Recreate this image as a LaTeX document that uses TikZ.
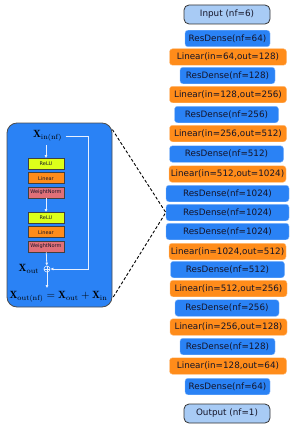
\documentclass[tikz,border=0pt]{standalone}
\usepackage{fontspec}
\newfontfamily\dejavu{DejaVu Sans}
\usetikzlibrary{arrows.meta, positioning}
\definecolor{rdblue}{HTML}{2A82F5}
\definecolor{lnorange}{HTML}{FF8C1A}
\definecolor{iolight}{HTML}{A8CBF5}
\definecolor{relugreen}{HTML}{DDFF1A}
\definecolor{wnpink}{HTML}{E07078}
\definecolor{arrwhite}{HTML}{E8F0FF}
\definecolor{txtdark}{HTML}{141428}

\begin{document}
\begin{tikzpicture}[x=1pt, y=-1pt,
  rd/.style={draw=rdblue!55!white, fill=rdblue, rounded corners=3pt, minimum height=16.5pt, inner sep=0pt, font=\dejavu\fontsize{8.8}{10}\selectfont, text=txtdark},
  ln/.style={rd, draw=lnorange!55!white, fill=lnorange, minimum width=117pt},
  io/.style={rd, draw=black!80, fill=iolight, minimum width=86pt, minimum height=19pt, rounded corners=5pt, line width=0.8pt},
  lyr/.style={draw=black!75, line width=0.7pt, minimum width=36pt, minimum height=11pt, inner sep=0pt, font=\dejavu\fontsize{5}{6}\selectfont, text=txtdark},
  arr/.style={-{Latex[length=3pt,width=3pt]}, arrwhite, line width=0.8pt},
  zoom/.style={dash pattern=on 3pt off 2pt, line width=0.9pt}
]
  \useasboundingbox (0,0) rectangle (299,428);

  % network stack
  \node[io] (inp) at (227,14.5) {Input (nf=6)};
  \node[rd, minimum width=85pt] (b1) at (227.5,38.5) {ResDense(nf=64)};
  \node[ln] (b2) at (228,57) {Linear(in=64,out=128)};
  \node[rd, minimum width=95pt] (b3) at (227.5,75.5) {ResDense(nf=128)};
  \node[ln] (b4) at (228,94.5) {Linear(in=128,out=256)};
  \node[rd, minimum width=104pt] (b5) at (226.5,114.5) {ResDense(nf=256)};
  \node[ln] (b6) at (228,133.5) {Linear(in=256,out=512)};
  \node[rd, minimum width=114pt] (b7) at (226.5,154) {ResDense(nf=512)};
  \node[ln] (b8) at (227.5,174) {Linear(in=512,out=1024)};
  \node[rd, minimum width=123pt] (b9) at (227.5,193.5) {ResDense(nf=1024)};
  \node[rd, minimum width=123pt] (b10) at (227.5,212.5) {ResDense(nf=1024)};
  \node[rd, minimum width=123pt] (b11) at (227.5,231.5) {ResDense(nf=1024)};
  \node[ln] (b12) at (227.5,251.5) {Linear(in=1024,out=512)};
  \node[rd, minimum width=114pt] (b13) at (227.5,269.5) {ResDense(nf=512)};
  \node[ln] (b14) at (228.5,288.5) {Linear(in=512,out=256)};
  \node[rd, minimum width=104pt] (b15) at (227,308) {ResDense(nf=256)};
  \node[ln] (b16) at (228.5,327) {Linear(in=256,out=128)};
  \node[rd, minimum width=95pt] (b17) at (227.5,346.5) {ResDense(nf=128)};
  \node[ln] (b18) at (228,366) {Linear(in=128,out=64)};
  \node[rd, minimum width=85pt] (b19) at (227.5,386.5) {ResDense(nf=64)};
  \node[io] (outp) at (227,413.5) {Output (nf=1)};

  % ResDense block in detail
  \node[draw=black!70, line width=0.8pt, fill=rdblue, rounded corners=10pt, minimum width=105pt, minimum height=184pt] (lbox) at (59.5,215) {};
  \node[font=\fontsize{10.5}{12}\selectfont] (xin) at (47.5,136) {$\mathbf{X}_{\mathrm{in(nf)}}$};
  \node[lyr, fill=relugreen] (relu1) at (46,164) {ReLU};
  \node[lyr, fill=lnorange, below=2.5pt of relu1] (lin1) {Linear};
  \node[lyr, fill=wnpink, below=2.5pt of lin1] (wn1) {WeightNorm};
  \node[lyr, fill=relugreen] (relu2) at (46,218) {ReLU};
  \node[lyr, fill=lnorange, below=2.5pt of relu2] (lin2) {Linear};
  \node[lyr, fill=wnpink, below=2.5pt of lin2] (wn2) {WeightNorm};
  \node[circle, draw=arrwhite, line width=0.6pt, minimum size=6pt, inner sep=0pt] (add) at (47,269) {};
  \draw[arrwhite, line width=0.6pt] (add.north) -- (add.south) (add.west) -- (add.east);
  \node[font=\fontsize{10.5}{12}\selectfont, left=1pt of add] (xout) {$\mathbf{X}_{\mathrm{out}}$};
  \node[font=\fontsize{10.5}{12}\selectfont] (res) at (58.5,297) {$\mathbf{X}_{\mathrm{out(nf)}} = \mathbf{X}_{\mathrm{out}} + \mathbf{X}_{\mathrm{in}}$};

  \draw[arr] (xin.south -| relu1) -- (relu1);
  \draw[arr] (wn1) -- (relu2);
  \draw[arr] (wn2) -- (add);
  \draw[arr] (add.south) -- (res.north -| add);
  \draw[arr] (xin.east) -- ++(23,0) |- (add.east);

  % zoom lines
  \draw[zoom] ([yshift=-7pt]lbox.north east) -- (b10.west) -- ([yshift=9pt]lbox.south east);
\end{tikzpicture}
\end{document}
